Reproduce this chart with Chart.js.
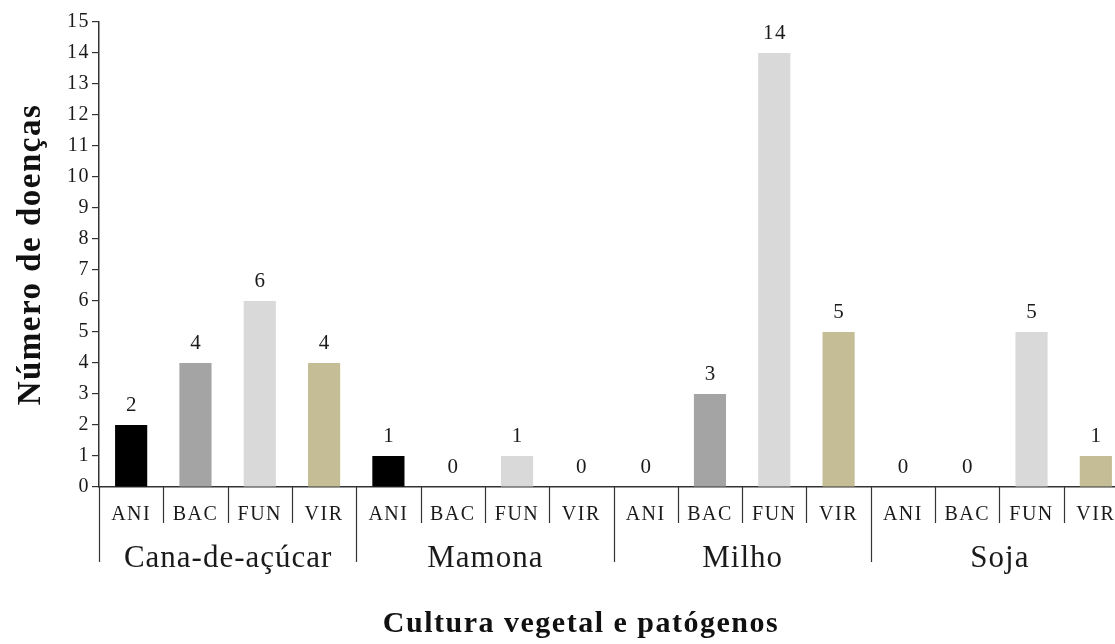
<!DOCTYPE html>
<html>
<head>
<meta charset="utf-8">
<script src="https://cdn.jsdelivr.net/npm/chart.js@4.4.1/dist/chart.umd.min.js"></script>
<style>
  html, body { margin: 0; padding: 0; background: #ffffff; overflow: hidden; }
  #wrap { width: 1128px; height: 644px; position: relative; }
</style>
</head>
<body>
<div id="wrap"><canvas id="c"></canvas></div>
<script>
const crops = ['Cana-de-açúcar', 'Mamona', 'Milho', 'Soja'];
const pathogens = ['ANI', 'BAC', 'FUN', 'VIR'];
const pathogenColors = ['#000000', '#a4a4a4', '#d9d9d9', '#c5bd96'];
const caneValues = [2, 4, 6, 4];
const castorValues = [1, 0, 1, 0];
const cornValues = [0, 3, 14, 5];
const soyValues = [0, 0, 5, 1];
const yTicks = [0,1,2,3,4,5,6,7,8,9,10,11,12,13,14,15];
const xTitle = 'Cultura vegetal e patógenos';
const yTitle = 'Número de doenças';

const seriesByCrop = [caneValues, castorValues, cornValues, soyValues];
const labels = [];
const values = [];
const colors = [];
crops.forEach((crop, g) => {
  pathogens.forEach((p, k) => {
    labels.push(p);
    values.push(seriesByCrop[g][k]);
    colors.push(pathogenColors[k]);
  });
});

const SERIF = '"Liberation Serif", "DejaVu Serif", serif';
const TEXT = '#1a1a1a';

const decorPlugin = {
  id: 'decor',
  beforeDraw(chart) {
    chart.ctx.letterSpacing = '1.5px';
  },
  afterDatasetsDraw(chart) {
    const ctx = chart.ctx;
    const meta = chart.getDatasetMeta(0);
    ctx.save();
    ctx.letterSpacing = '1.5px';
    ctx.fillStyle = TEXT;
    ctx.font = '21px ' + SERIF;
    ctx.textAlign = 'center';
    ctx.textBaseline = 'alphabetic';
    meta.data.forEach((bar, i) => {
      ctx.fillText(String(values[i]), bar.x + 0.75, bar.y - 14);
    });
    ctx.restore();
  },
  afterDraw(chart) {
    const ctx = chart.ctx;
    const xs = chart.scales.x;
    const axisY = chart.chartArea.bottom;
    const half = (xs.getPixelForValue(1) - xs.getPixelForValue(0)) / 2;
    ctx.save();
    ctx.strokeStyle = '#333333';
    ctx.lineWidth = 1.2;
    for (let i = 0; i < labels.length; i++) {
      const bx = Math.round(xs.getPixelForValue(i) - half) + 0.5;
      const long = i % pathogens.length === 0;
      ctx.beginPath();
      ctx.moveTo(bx, axisY);
      ctx.lineTo(bx, axisY + (long ? 75 : 36));
      ctx.stroke();
    }
    ctx.letterSpacing = '1px';
    ctx.fillStyle = TEXT;
    ctx.font = '31px ' + SERIF;
    ctx.textAlign = 'center';
    ctx.textBaseline = 'alphabetic';
    crops.forEach((crop, g) => {
      const x0 = xs.getPixelForValue(g * pathogens.length);
      const x1 = xs.getPixelForValue(g * pathogens.length + pathogens.length - 1);
      ctx.fillText(crop, (x0 + x1) / 2 + 0.5, axisY + 80);
    });
    // x-axis title (centred as in the reference, which is offset from the plot centre)
    ctx.letterSpacing = '1.5px';
    ctx.fillStyle = '#111111';
    ctx.font = 'bold 30px ' + SERIF;
    ctx.fillText(xTitle, 581, axisY + 145);
    ctx.restore();
  }
};

new Chart(document.getElementById('c'), {
  type: 'bar',
  data: {
    labels: labels,
    datasets: [{
      data: values,
      backgroundColor: colors,
      borderWidth: 0,
      barPercentage: 0.5,
      categoryPercentage: 1.0
    }]
  },
  options: {
    responsive: true,
    maintainAspectRatio: false,
    animation: false,
    layout: { padding: { top: 22, right: 0, left: 0, bottom: 0 } },
    plugins: { legend: { display: false }, tooltip: { enabled: false } },
    scales: {
      x: {
        afterFit(scale) { scale.height = 157; },
        grid: { display: false },
        border: { display: true, color: '#333333', width: 1.5 },
        ticks: { color: TEXT, font: { family: SERIF, size: 20 }, padding: 8, maxRotation: 0, autoSkip: false },
        title: { display: false }
      },
      y: {
        afterFit(scale) { scale.width = 99; },
        min: 0, max: 15,
        afterBuildTicks(scale) { scale.ticks = yTicks.map(v => ({ value: v })); },
        grid: { display: true, drawOnChartArea: false, drawTicks: true, tickLength: 7, color: '#333333', lineWidth: 1.2 },
        border: { display: true, color: '#333333', width: 1.5 },
        ticks: { color: TEXT, font: { family: SERIF, size: 20 }, padding: 2 },
        title: { display: true, text: yTitle, color: '#111111',
                 font: { family: SERIF, size: 33, weight: 'bold' }, padding: { top: 12, bottom: 0 } }
      }
    }
  },
  plugins: [decorPlugin]
});
</script>
</body>
</html>
